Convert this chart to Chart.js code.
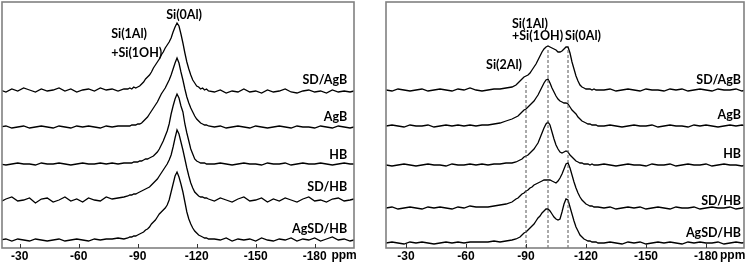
<!DOCTYPE html>
<html>
<head>
<meta charset="utf-8">
<script src="https://cdn.jsdelivr.net/npm/chart.js@4.4.1/dist/chart.umd.min.js"></script>
<style>
  body { margin: 0; background: #fff; }
  #left { position: absolute; left: 0; top: 0; }
  #right { position: absolute; left: 374px; top: 0; }
</style>
</head>
<body>
<canvas id="left" width="374" height="263"></canvas>
<canvas id="right" width="373" height="263"></canvas>
<script>
// chemical shift grid (ppm), shared by every spectrum
const ppm = [
  -20,-23,-26,-29,-32,-35,-38,-41,-44,-47,-50,-53,-56,-59,-62,-65,-68,-71,-74,-77,-80,-83,
  -85,-86,-87,-88,-89,-90,-91,-92,-93,-94,-95,-96,-97,-98,-99,-100,-101,-102,-103,-104,-105,
  -106,-107,-108,-109,-110,-111,-112,-113,-114,-115,-116,-117,-118,-119,-120,-121,-122,-123,
  -124,-125,-126,
  -129,-132,-135,-138,-141,-144,-147,-150,-153,-156,-159,-162,-165,-168,-171,-174,-177,-180,
  -183,-186,-189,-192,-195,-198,-200
];

const sampleNames = ['SD/AgB', 'AgB', 'HB', 'SD/HB', 'AgSD/HB'];
const tickPpm = [-30, -60, -90, -120, -150, -180];

// left panel spectra (intensity above own baseline)
const leftSDAgB = [
  0,-2,1,-1,2,0,-2,1,-1,0,2,-1,1,-2,0,1,-1,2,0,1,-1,1,
  1,2,1,3,2,3,4,6,8,11,13,15,18,22,25,28,31,35,38,42,45,48,52,58,63,67,64,56,47,37,28,21,15,10,7,4,3,1,2,0,1,-1,
  -2,0,-3,-1,-2,1,-2,-1,-3,0,-2,-1,1,-2,-3,-1,0,-2,-1,-3,0,-2,-1,-2,-1
];
const leftAgB = [
  0,1,-1,0,1,-1,0,1,0,-1,1,0,-1,1,0,1,0,-1,1,0,1,1,
  1,1,2,2,2,3,3,4,6,8,10,13,16,19,22,25,29,33,36,39,43,47,52,58,64,69,64,55,47,38,30,24,19,15,11,8,6,4,3,2,2,1,
  0,1,-1,0,1,0,-1,1,0,-1,0,1,0,-1,1,0,0,-1,1,0,-1,1,0,-1,0
];
const leftHB = [
  0,-1,0,1,0,0,-1,1,0,0,1,0,-1,0,1,0,0,1,0,1,0,1,
  1,1,1,2,2,2,3,3,4,5,5,6,7,8,10,12,15,19,23,28,33,40,50,58,65,70,66,58,52,40,31,23,15,10,5,3,2,1,1,1,0,0,
  0,1,0,-1,0,1,0,0,-1,1,0,0,1,-1,0,1,0,0,1,0,-1,0,1,0,0
];
const leftSDHB = [
  -2,1,3,-1,0,2,-3,1,2,-2,0,3,-1,1,-2,2,0,-1,3,1,2,3,
  4,5,5,6,6,7,8,9,10,11,12,13,15,17,19,21,24,27,30,33,36,40,45,53,62,70,66,58,50,41,32,24,17,12,8,6,4,3,3,2,2,1,
  -1,2,0,-2,1,3,-1,0,2,-2,1,-1,2,0,-2,1,3,-1,0,-2,1,2,-1,0,1
];
const leftAgSDHB = [
  0,1,-1,1,0,-1,1,0,-1,0,1,-1,0,1,0,-1,1,0,1,1,2,1,
  2,3,3,4,4,5,6,7,8,10,11,13,16,18,20,23,26,28,30,32,35,40,48,56,64,68,63,56,48,38,28,21,16,12,9,7,5,4,3,2,2,1,
  1,0,2,-1,1,0,1,-1,2,0,-1,1,0,2,-1,1,0,2,-1,1,3,0,1,-1,0
];
const leftOffsets = [158, 121, 84, 48, 8];

// right panel spectra
const rightSDAgB = [
  0,-1,1,0,-1,0,1,-1,0,1,0,-1,1,0,2,0,-1,0,1,1,2,3,
  5,7,9,11,13,14,15,17,20,23,26,30,34,38,41,43,44,43,42,41,40,38,38,39,41,43,43,37,28,21,14,9,5,3,2,1,1,1,0,1,0,0,
  0,1,-1,0,1,0,-1,1,0,0,-1,1,0,1,-1,0,1,0,-1,1,0,0,1,-1,0
];
const rightAgB = [
  0,1,0,-1,1,0,0,1,-1,0,1,0,1,0,1,0,1,1,2,3,5,7,
  9,10,12,14,16,17,19,21,23,25,28,31,35,39,43,46,47,43,38,34,30,27,25,24,23,23,22,19,16,14,12,9,7,5,4,3,2,2,1,1,1,0,
  0,1,0,-1,0,1,0,0,1,-1,0,1,0,0,-1,1,0,1,0,-1,0,1,0,1,0
];
const rightHB = [
  0,-1,0,1,0,-1,0,1,0,0,-1,1,0,0,1,0,1,0,1,1,2,2,
  3,4,5,6,8,9,10,12,14,16,19,22,27,32,37,41,43,40,33,26,20,16,13,12,13,14,13,10,8,6,4,3,2,2,1,1,1,0,1,0,0,0,
  1,0,-1,0,1,0,0,-1,1,0,0,1,-1,0,1,0,0,1,-1,0,1,0,0,-1,0
];
const rightSDHB = [
  0,1,-1,0,1,0,-1,1,0,1,0,-1,1,0,2,1,1,1,2,3,4,6,
  9,10,12,14,15,17,18,20,21,23,24,25,26,27,28,28,28,28,27,26,25,27,30,34,39,44,45,40,33,26,20,15,11,8,6,4,3,2,2,1,1,1,
  0,1,-1,0,1,0,1,-1,0,1,0,-1,1,0,0,1,-1,0,1,0,0,1,-1,0,1
];
const rightAgSDHB = [
  0,1,0,-1,1,0,1,0,-1,0,1,0,1,0,1,1,1,1,2,1,2,3,
  4,5,6,8,10,11,13,15,17,19,22,25,27,30,32,34,34,32,29,26,24,23,24,31,39,44,43,36,29,22,16,12,8,6,4,3,2,2,1,1,1,0,
  0,1,0,-1,1,0,1,-1,0,1,0,1,0,-1,1,0,1,0,0,1,-1,0,1,0,1
];
const rightOffsets = [158, 122, 83, 40, 5];

// assignment positions (dashed guides, right panel)
const assignPpm = [-90, -101, -111];
const assignTop = [166, 198, 198];

const labelFont = 'bold 12.5px Lato, "Open Sans", sans-serif';
const tickFamily = '"Liberation Sans Narrow", "Liberation Sans", Arial, sans-serif';

function spectrum(values, offset) {
  return {
    data: values.map((v, i) => ({ x: ppm[i], y: offset + v })),
    borderColor: '#000',
    borderWidth: 1.3,
    pointRadius: 0,
    fill: false,
    tension: 0
  };
}

const decor = {
  id: 'decor',
  afterDraw(chart, args, opts) {
    const { ctx, chartArea: a, scales: { x, y } } = chart;
    ctx.save();
    ctx.strokeStyle = '#808080';
    ctx.lineWidth = 1.6;
    ctx.strokeRect(a.left, a.top, a.right - a.left, a.bottom - a.top);

    ctx.strokeStyle = '#333';
    ctx.lineWidth = 1;
    tickPpm.forEach(v => {
      const px = Math.round(x.getPixelForValue(v)) + 0.5;
      ctx.beginPath();
      ctx.moveTo(px, a.bottom);
      ctx.lineTo(px, a.bottom - 4);
      ctx.stroke();
    });

    ctx.fillStyle = '#000';
    ctx.font = 'bold 12px ' + tickFamily;
    ctx.textAlign = 'left';
    ctx.textBaseline = 'middle';
    ctx.fillText('ppm', x.getPixelForValue(opts.unitAt), a.bottom + 8);

    ctx.font = labelFont;
    opts.labels.forEach(l => {
      ctx.textAlign = l.align;
      ctx.fillText(l.text, x.getPixelForValue(l.ppm), y.getPixelForValue(l.y));
    });
    ctx.restore();
  }
};

function makeChart(id, datasets, xmin, xmax, pad, unitAt, labels) {
  return new Chart(document.getElementById(id), {
    type: 'line',
    data: { datasets: datasets },
    plugins: [decor],
    options: {
      responsive: false,
      animation: false,
      layout: { padding: pad },
      plugins: {
        legend: { display: false },
        tooltip: { enabled: false },
        decor: { unitAt: unitAt, labels: labels }
      },
      scales: {
        x: {
          type: 'linear',
          reverse: true,
          min: xmin,
          max: xmax,
          afterBuildTicks: s => { s.ticks = tickPpm.map(v => ({ value: v })); },
          afterFit: s => { s.height = 15; },
          grid: { display: false },
          border: { display: false },
          ticks: {
            color: '#000',
            padding: -5,
            maxRotation: 0,
            font: { family: tickFamily, size: 12, weight: 'bold', lineHeight: 1 }
          }
        },
        y: { display: false, min: 0, max: 246 }
      }
    }
  });
}

const leftSets = [leftSDAgB, leftAgB, leftHB, leftSDHB, leftAgSDHB]
  .map((v, i) => spectrum(v, leftOffsets[i]));
const leftLabels = [
  { text: 'Si(0Al)', ppm: -113.6, y: 233, align: 'center' },
  { text: 'Si(1Al)', ppm: -76.5, y: 214, align: 'left' },
  { text: '+Si(1OH)', ppm: -76.5, y: 195, align: 'left' }
].concat(sampleNames.map((n, i) => ({ text: n, ppm: -196.5, y: [168, 131, 93, 61, 19][i], align: 'right' })));

makeChart('left', leftSets, -200, -21, { left: 2, right: 20, top: 2, bottom: 0 }, -188.5, leftLabels);

const guideSets = assignPpm.map((p, i) => ({
  data: [{ x: p, y: 0 }, { x: p, y: assignTop[i] }],
  borderColor: '#555',
  borderWidth: 1,
  borderDash: [3, 2],
  pointRadius: 0
}));
const rightSets = guideSets.concat([rightSDAgB, rightAgB, rightHB, rightSDHB, rightAgSDHB]
  .map((v, i) => spectrum(v, rightOffsets[i])));
const rightLabels = [
  { text: 'Si(1Al)', ppm: -83, y: 224, align: 'left' },
  { text: '+Si(1OH)', ppm: -83, y: 212, align: 'left' },
  { text: 'Si(0Al)', ppm: -118.5, y: 212, align: 'center' },
  { text: 'Si(2Al)', ppm: -79, y: 183, align: 'center' }
].concat(sampleNames.map((n, i) => ({ text: n, ppm: -197.5, y: [168, 133, 94, 47, 15][i], align: 'right' })));

makeChart('right', rightSets, -199, -20, { left: 12, right: 3, top: 2, bottom: 0 }, -187, rightLabels);
</script>
</body>
</html>
